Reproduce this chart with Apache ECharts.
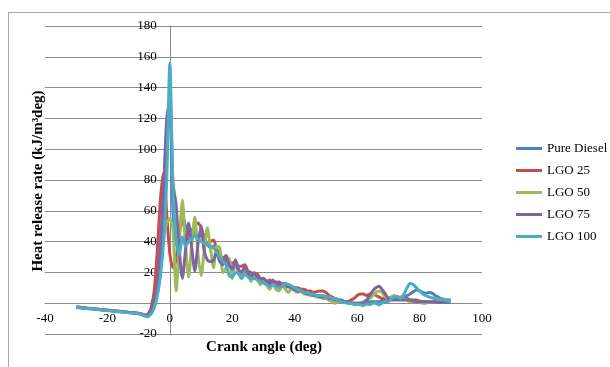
<!DOCTYPE html>
<html>
<head>
<meta charset="utf-8">
<script src="https://cdn.jsdelivr.net/npm/echarts@6/dist/echarts.min.js"></script>
<style>
  html, body { margin: 0; padding: 0; background: #fff; }
  #chart { width: 610px; height: 367px; }
</style>
</head>
<body>
<div id="chart"></div>
<script>
// Crank angle samples, one per degree from -30 to 90
const crankAngle = Array.from({ length: 121 }, (_, i) => i - 30);

const seriesNames = ['Pure Diesel', 'LGO 25', 'LGO 50', 'LGO 75', 'LGO 100'];
const seriesColors = ['#4F81BD', '#C0504D', '#9BBB59', '#8064A2', '#4BACC6'];

// Heat release rate (kJ/m³deg)
const pureDiesel = [
  -2.5,-2.8,-3,-3.2,-3.3,-3.6,-3.8,-4,-4.1,-4.4,-4.5,-4.8,-5,-5.1,-5.4,-5.5,-5.8,-6,-6.1,-6.4,-6.6,-7.2,-8,-8.2,
  -5, 2, 15, 40, 75, 108, 125,
  60, 38, 45, 58, 50, 44, 48, 46, 42, 45,
  40, 38, 36, 37, 32, 30, 28, 27, 24, 23,
  24, 21, 20, 21, 18, 17, 17, 16, 15, 15,
  13, 13, 12, 13, 11, 12, 10, 11, 9, 9,
  8, 8, 7, 7, 6, 6, 5, 5, 5, 4,
  4, 3, 3, 2, 2, 1, 1, 0.5, 0, 0,
  0, 0.5, 1, 1, 1, 1, 1, 1.5, 2, 2,
  2.5, 3, 3, 3.5, 4, 5, 6, 7.5, 8.5, 8,
  7, 6.5, 7, 6.5, 5, 4, 3, 2.5, 2, 2
];
const lgo25 = [
  -2.3,-2.6,-2.9,-3.1,-3.4,-3.5,-3.7,-4,-4.2,-4.3,-4.6,-4.7,-5,-5.2,-5.3,-5.6,-5.7,-6,-6.2,-6.3,-6.6,-7,-7.6,-7,
  -3, 8, 35, 68, 85, 58, 32,
  23, 28, 48, 54, 46, 40, 45, 50, 52, 49,
  43, 38, 40, 41, 35, 32, 29, 31, 27, 26,
  27, 24, 24, 25, 21, 20, 18, 19, 16, 16,
  14, 15, 13, 14, 12, 13, 11, 12, 11, 10,
  10, 9, 9, 8, 8, 7, 7.5, 8, 8, 7,
  5, 4, 3, 2, 1.5, 1, 1, 2, 3, 5,
  6, 6, 5, 6, 6, 5, 4, 3, 3, 3,
  4, 4, 4, 3, 3, 3, 2, 2, 2, 1.5,
  1, 1, 1, 1, 1, 1, 1, 1, 1, 1
];
const lgo50 = [
  -2.6,-2.8,-3.1,-3.2,-3.5,-3.6,-3.9,-4,-4.3,-4.4,-4.7,-4.8,-5.1,-5.2,-5.5,-5.6,-5.9,-6,-6.3,-6.4,-6.7,-7.2,-8.2,-8.3,
  -6, -1, 6, 22, 42, 52, 55,
  48, 8, 38, 67, 38, 17, 38, 56, 32, 18,
  34, 49, 36, 23, 37, 36, 20, 23, 29, 16,
  28, 22, 16, 23, 20, 14, 18, 16, 12, 15,
  12, 9, 13, 9, 8, 12, 9, 7, 10, 8,
  7, 8, 6, 6, 5, 5, 4, 4, 3, 3,
  2, 1, 0, 1, 1, 0.5, 0, 0, -1, -1,
  0, 1, 2, 3, 5, 7, 8, 7, 4, 3,
  4, 5, 4, 4, 3, 2, 1, 1, 1, 0.5,
  0, 0, 0.5, 1, 1, 1, 1, 1, 1, 1
];
const lgo75 = [
  -2.4,-2.7,-3,-3.2,-3.4,-3.5,-3.8,-4,-4.2,-4.4,-4.5,-4.8,-5,-5.2,-5.4,-5.5,-5.8,-6,-6.2,-6.4,-6.5,-7.1,-7.8,-8,
  -5, 1, 10, 30, 72, 120, 132,
  78, 64, 35, 16, 34, 52, 36, 21, 38, 50,
  34, 28, 27, 28, 33, 27, 25, 30, 25, 22,
  28, 22, 20, 24, 20, 17, 20, 17, 15, 16,
  14, 12, 15, 12, 14, 11, 13, 11, 10, 9,
  8, 8, 7, 6, 6, 5, 5, 4, 4, 4,
  3, 3, 2, 2, 1, 1, 0.5, 0, 0, 0,
  0, 0, 2, 5, 8, 10, 11, 9, 6, 3,
  2, 2, 2, 2, 2, 2, 2, 1.5, 1, 1,
  1, 1, 1, 1, 1, 0.5, 0.5, 0.5, 0.5, 0.5
];
const lgo100 = [
  -2.8,-3,-3.2,-3.4,-3.6,-3.8,-4,-4.2,-4.4,-4.6,-4.8,-5,-5.2,-5.4,-5.6,-5.8,-6,-6.2,-6.4,-6.6,-6.8,-7.4,-8.4,-8.8,
  -7, -3, 5, 18, 40, 80, 156,
  75, 42, 31, 43, 37, 40, 42, 44, 42, 40,
  39, 38, 37, 36, 33, 30, 27, 25, 18, 17,
  20, 19, 16, 19, 17, 16, 16, 15, 14, 13,
  12, 11, 12, 11, 10, 11, 13, 12, 11, 10,
  9, 8, 7, 7, 6, 6, 5, 5, 5, 4,
  4, 3, 3, 2, 1, 0.5, 0, 0, -0.5, -0.5,
  -1, -1.5, -0.5, -1, 0, 0, -1, 0, 1, 1,
  3, 4, 4, 3, 6, 10, 13, 12, 10, 8,
  6, 5, 4, 3.5, 3, 3, 2.5, 2, 1.5, 1
];

const seriesValues = [pureDiesel, lgo25, lgo50, lgo75, lgo100];

// Axis ranges
const xMin = -40, xMax = 100, xStep = 20;
const yMin = -20, yMax = 180, yStep = 20;

// Plot box in pixels
const gridLeft = 45, gridRight = 128, gridTop = 26, gridBottom = 33;
const plotW = 610 - gridLeft - gridRight;
const plotH = 367 - gridTop - gridBottom;

// Both axes cross at zero: shift each axis (line and labels) inward to the origin
const yAxisShift = -((0 - xMin) / (xMax - xMin)) * plotW;
const xAxisShift = -((0 - yMin) / (yMax - yMin)) * plotH;

const serif = '"Liberation Serif", "Times New Roman", serif';
const gridColor = '#8a8a8a';

const chart = echarts.init(document.getElementById('chart'), null, { renderer: 'canvas' });

const series = seriesNames.map((name, k) => ({
  name,
  type: 'line',
  data: crankAngle.map((x, i) => [x, seriesValues[k][i]]),
  showSymbol: false,
  symbol: 'none',
  smooth: 0.25,
  lineStyle: { color: seriesColors[k], width: 3 },
  itemStyle: { color: seriesColors[k] },
  emphasis: { disabled: true }
}));

chart.setOption({
  animation: false,
  backgroundColor: '#ffffff',
  grid: { left: gridLeft, right: gridRight, top: gridTop, bottom: gridBottom, containLabel: false },
  xAxis: {
    type: 'value',
    position: 'bottom',
    offset: xAxisShift,
    min: xMin, max: xMax, interval: xStep,
    axisLine: { show: true, onZero: false, lineStyle: { color: gridColor, width: 1 } },
    axisTick: { show: false },
    splitLine: { show: false },
    axisLabel: { fontFamily: serif, fontSize: 13, color: '#000', margin: 9 }
  },
  yAxis: {
    type: 'value',
    position: 'left',
    offset: yAxisShift,
    min: yMin, max: yMax, interval: yStep,
    axisLine: { show: true, onZero: false, lineStyle: { color: gridColor, width: 1 } },
    axisTick: { show: false },
    splitLine: { show: true, lineStyle: { color: gridColor, width: 1 } },
    axisLabel: { fontFamily: serif, fontSize: 13, color: '#000', margin: 13 }
  },
  legend: {
    orient: 'vertical',
    left: 511,
    top: 137,
    itemWidth: 26,
    itemHeight: 14,
    itemGap: 9,
    icon: 'path://M0,0 L26,0 L26,3 L0,3 Z',
    data: seriesNames,
    textStyle: { fontFamily: serif, fontSize: 13, color: '#000' }
  },
  graphic: [
    {
      type: 'line',
      shape: { x1: 8, y1: 12.5, x2: 610, y2: 12.5 },
      style: { stroke: '#a8a8a8', lineWidth: 1 }
    },
    {
      type: 'line',
      shape: { x1: 8.5, y1: 12, x2: 8.5, y2: 367 },
      style: { stroke: '#a8a8a8', lineWidth: 1 }
    },
    {
      type: 'text',
      x: 264, y: 347,
      style: {
        text: 'Crank angle (deg)',
        font: 'bold 15px ' + serif,
        fill: '#000',
        textAlign: 'center',
        textVerticalAlign: 'middle'
      }
    },
    {
      type: 'text',
      x: 38, y: 181,
      rotation: Math.PI / 2,
      style: {
        text: 'Heat release rate (kJ/m³deg)',
        font: 'bold 15px ' + serif,
        fill: '#000',
        textAlign: 'center',
        textVerticalAlign: 'middle'
      }
    }
  ],
  series
});
</script>
</body>
</html>
